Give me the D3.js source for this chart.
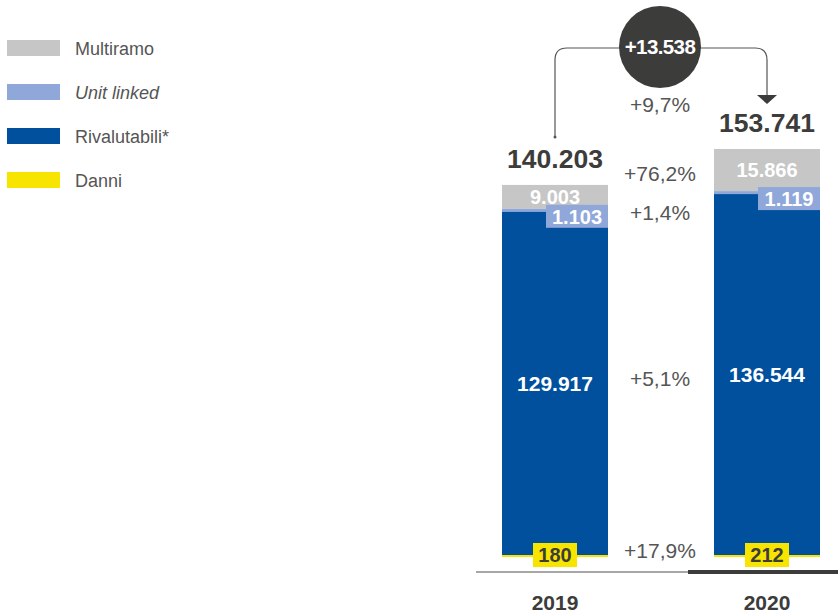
<!DOCTYPE html>
<html><head><meta charset="utf-8">
<script src="https://cdn.jsdelivr.net/npm/d3@7"></script>
<style>body{margin:0;background:#fff;}svg{display:block;font-family:"Liberation Sans",Arial,Helvetica,sans-serif;}</style>
</head><body>
<svg id="c" width="838" height="615"></svg>
<script>
const years = ["2019", "2020"];
const seriesNames = ["Danni", "Rivalutabili*", "Unit linked", "Multiramo"];
const danni = [180, 212];
const rivalutabili = [129917, 136544];
const unitLinked = [1103, 1119];
const multiramo = [9003, 15866];
const totals = [140203, 153741];
const totalLabels = ["140.203", "153.741"];
const valueLabels = {
  "Danni": ["180", "212"],
  "Rivalutabili*": ["129.917", "136.544"],
  "Unit linked": ["1.103", "1.119"],
  "Multiramo": ["9.003", "15.866"]
};
const changes = ["+17,9%", "+5,1%", "+1,4%", "+76,2%"];
const totalChange = "+9,7%";
const deltaLabel = "+13.538";
const legendOrder = ["Multiramo", "Unit linked", "Rivalutabili*", "Danni"];

const colors = {"Multiramo":"#c6c6c6","Unit linked":"#8fa7d9","Rivalutabili*":"#00509e","Danni":"#f7e500"};

const svg = d3.select("#c");
const x = d3.scaleBand().domain(years).range([502, 820]).paddingInner(0.5).paddingOuter(0);
const y = d3.scaleLinear().domain([0, 153741]).range([557, 149]);

const rows = years.map((yr, i) => ({year: yr, "Danni": danni[i], "Rivalutabili*": rivalutabili[i], "Unit linked": unitLinked[i], "Multiramo": multiramo[i]}));
const stack = d3.stack().keys(seriesNames)(rows);

// bars (draw top-down so the thin Danni strip stays visible)
stack.slice().reverse().forEach(layer => {
  svg.append("g").selectAll("rect").data(layer).join("rect")
    .attr("x", d => x(d.data.year))
    .attr("width", x.bandwidth())
    .attr("y", d => layer.key === "Danni" ? Math.min(y(d[1]), y(d[0]) - 2) : y(d[1]))
    .attr("height", d => layer.key === "Danni" ? Math.max(2, y(d[0]) - y(d[1])) : y(d[0]) - y(d[1]))
    .attr("fill", colors[layer.key]);
});

// axis line
const yBase = 572;
svg.append("line").attr("x1", 476).attr("x2", 688).attr("y1", yBase).attr("y2", yBase).attr("stroke", "#8a8a8a").attr("stroke-width", 1.5);
svg.append("line").attr("x1", 688).attr("x2", 838).attr("y1", yBase).attr("y2", yBase).attr("stroke", "#3c3c3b").attr("stroke-width", 4);

// year labels
svg.append("g").selectAll("text").data(years).join("text")
  .attr("x", d => x(d) + x.bandwidth() / 2).attr("y", 610)
  .attr("text-anchor", "middle").attr("font-size", 21).attr("font-weight", "bold").attr("fill", "#3c3c3b")
  .text(d => d);

// segment labels
years.forEach((yr, i) => {
  const bx = x(yr), bw = x.bandwidth(), cx = bx + bw / 2;
  const l = stack.map(s => s[i]);
  const m = l[3];
  svg.append("text").attr("x", cx).attr("y", (y(m[0]) + y(m[1])) / 2 + 7)
    .attr("text-anchor", "middle").attr("font-size", 20).attr("font-weight", "bold").attr("fill", "#fff")
    .text(valueLabels["Multiramo"][i]);
  const u = l[2];
  const ut = y(u[1]) - 4;
  const uw = 62;
  svg.append("rect").attr("x", bx + bw - uw).attr("y", ut).attr("width", uw).attr("height", 23).attr("fill", colors["Unit linked"]);
  svg.append("text").attr("x", bx + bw - uw / 2).attr("y", ut + 19)
    .attr("text-anchor", "middle").attr("font-size", 20).attr("font-weight", "bold").attr("fill", "#fff")
    .text(valueLabels["Unit linked"][i]);
  const r = l[1];
  svg.append("text").attr("x", cx).attr("y", (y(r[0]) + y(r[1])) / 2 + 7)
    .attr("text-anchor", "middle").attr("font-size", 21).attr("font-weight", "bold").attr("fill", "#fff")
    .text(valueLabels["Rivalutabili*"][i]);
  const dy = y(l[0][0]);
  svg.append("rect").attr("x", cx - 22).attr("y", dy - 14).attr("width", 44).attr("height", 24).attr("fill", colors["Danni"]);
  svg.append("text").attr("x", cx).attr("y", dy + 5)
    .attr("text-anchor", "middle").attr("font-size", 20).attr("font-weight", "bold").attr("fill", "#3c3c3b")
    .text(valueLabels["Danni"][i]);
  svg.append("text").attr("x", cx).attr("y", y(totals[i]) - 17)
    .attr("text-anchor", "middle").attr("font-size", 26.5).attr("font-weight", "bold").attr("fill", "#3c3c3b")
    .text(totalLabels[i]);
});

// change percentages between bars
const midX = 660;
const chY = [558, 386, 220, 181];
changes.forEach((c, k) => {
  svg.append("text").attr("x", midX).attr("y", chY[k]).attr("text-anchor", "middle")
    .attr("font-size", 21).attr("fill", "#555").text(c);
});
svg.append("text").attr("x", midX).attr("y", 112).attr("text-anchor", "middle")
  .attr("font-size", 21).attr("fill", "#555").text(totalChange);

// connector
const lx = x("2019") + x.bandwidth() / 2, rx = x("2020") + x.bandwidth() / 2;
const ly = 48, rad = 12;
svg.append("path")
  .attr("d", `M${lx},137 L${lx},${ly + rad} Q${lx},${ly} ${lx + rad},${ly} L${rx - rad},${ly} Q${rx},${ly} ${rx},${ly + rad} L${rx},96`)
  .attr("fill", "none").attr("stroke", "#555").attr("stroke-width", 1.2);
svg.append("circle").attr("cx", lx).attr("cy", 137).attr("r", 1.5).attr("fill", "#555");
svg.append("path").attr("d", `M${rx - 10},95 L${rx + 10},95 L${rx},104 Z`).attr("fill", "#3c3c3b");
svg.append("circle").attr("cx", midX).attr("cy", 47).attr("r", 41).attr("fill", "#3c3c3b");
svg.append("text").attr("x", midX).attr("y", 54).attr("text-anchor", "middle")
  .attr("font-size", 20.5).attr("font-weight", "bold").attr("fill", "#fff").attr("letter-spacing", -0.6).text(deltaLabel);

// legend
const lg = svg.append("g").selectAll("g").data(legendOrder).join("g")
  .attr("transform", (d, i) => `translate(7,${40 + i * 44})`);
lg.append("rect").attr("width", 53).attr("height", 16).attr("fill", d => colors[d]);
lg.append("text").attr("x", 68).attr("y", 15).attr("font-size", 18).attr("fill", "#555")
  .attr("font-style", d => d === "Unit linked" ? "italic" : "normal").text(d => d);
</script>
</body></html>
